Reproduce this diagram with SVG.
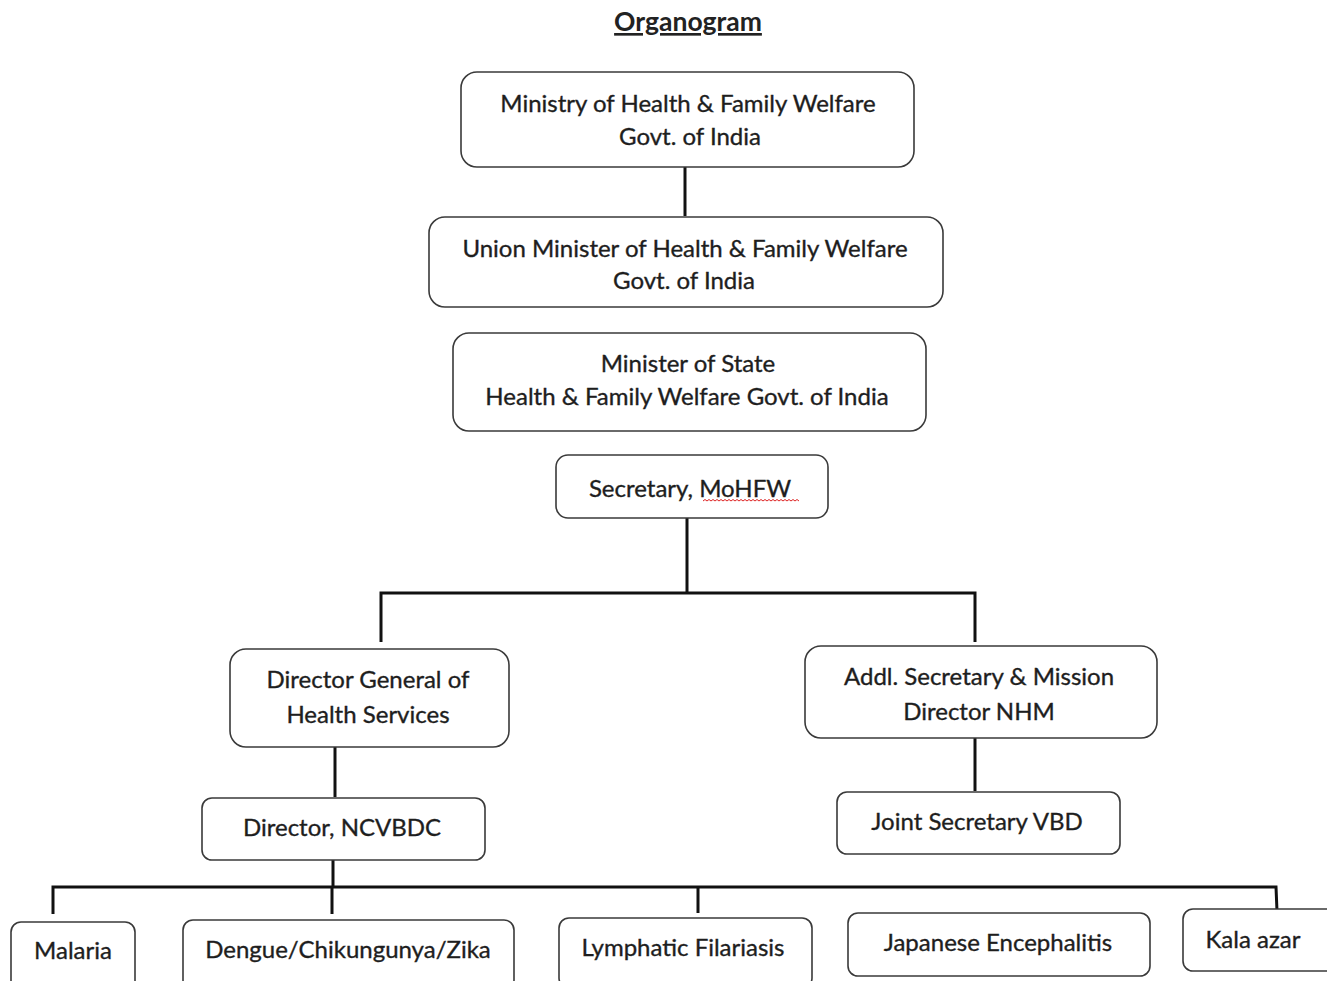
<svg xmlns="http://www.w3.org/2000/svg" width="1327" height="981" viewBox="0 0 1327 981">
<style>
.box{fill:#fff;stroke:#3a3a3a;stroke-width:1.6}
.t{font-family:Lato,"Open Sans","Liberation Sans",sans-serif;font-size:24px;fill:#1e1e1e;stroke:#1e1e1e;stroke-width:0.35;text-anchor:middle;dominant-baseline:central}
.c{fill:none;stroke:#111;stroke-width:3}
.title{font-family:Lato,"Open Sans","Liberation Sans",sans-serif;font-size:26.5px;font-weight:bold;fill:#222;text-anchor:middle;text-decoration:underline}
</style>
<rect width="1327" height="981" fill="#fff"/>
<text class="title" x="688" y="31">Organogram</text>
<g id="connectors">
<path class="c" d="M685 167V216"/>
<path class="c" d="M687 518V593M381 642V593H975V642"/>
<path class="c" d="M335 747V797"/>
<path class="c" d="M975 738V791"/>
<path class="c" d="M333 860V887M53 914V887H1276L1277 911M332 887V914M698 887V913"/>
</g>
<g id="n1"><rect class="box" x="461" y="72" width="453" height="95" rx="16"/><text class="t" x="688" y="102">Ministry of Health &amp; Family Welfare</text><text class="t" x="690" y="135">Govt. of India</text></g>
<g id="n2"><rect class="box" x="429" y="217" width="514" height="90" rx="16"/><text class="t" x="685" y="247">Union Minister of Health &amp; Family Welfare</text><text class="t" x="684" y="279">Govt. of India</text></g>
<g id="n3"><rect class="box" x="453" y="333" width="473" height="98" rx="16"/><text class="t" x="688" y="362">Minister of State</text><text class="t" x="687" y="395">Health &amp; Family Welfare Govt. of India</text></g>
<g id="n4"><rect class="box" x="556" y="455" width="272" height="63" rx="12"/><text class="t" x="690" y="487">Secretary, MoHFW</text><path d="M703 501l2-1.5 2 1.5 2-1.5 2 1.5 2-1.5 2 1.5 2-1.5 2 1.5 2-1.5 2 1.5 2-1.5 2 1.5 2-1.5 2 1.5 2-1.5 2 1.5 2-1.5 2 1.5 2-1.5 2 1.5 2-1.5 2 1.5 2-1.5 2 1.5 2-1.5 2 1.5 2-1.5 2 1.5 2-1.5 2 1.5 2-1.5 2 1.5 2-1.5 2 1.5 2-1.5 2 1.5 2-1.5 2 1.5 2-1.5 2 1.5 2-1.5 2 1.5 2-1.5 2 1.5 2-1.5 2 1.5 2-1.5 2 1.5" fill="none" stroke="#d22" stroke-width="1"/></g>
<g id="n5"><rect class="box" x="230" y="649" width="279" height="98" rx="16"/><text class="t" x="368" y="678">Director General of</text><text class="t" x="368" y="713">Health Services</text></g>
<g id="n6"><rect class="box" x="805" y="646" width="352" height="92" rx="16"/><text class="t" x="979" y="675">Addl. Secretary &amp; Mission</text><text class="t" x="979" y="710">Director NHM</text></g>
<g id="n7"><rect class="box" x="202" y="798" width="283" height="62" rx="10"/><text class="t" x="342" y="826">Director, NCVBDC</text></g>
<g id="n8"><rect class="box" x="837" y="792" width="283" height="62" rx="10"/><text class="t" x="977" y="820">Joint Secretary VBD</text></g>
<g id="n9"><rect class="box" x="11" y="922" width="124" height="70" rx="10"/><text class="t" x="73" y="949">Malaria</text></g>
<g id="n10"><rect class="box" x="183" y="920" width="331" height="70" rx="10"/><text class="t" x="348" y="948">Dengue/Chikungunya/Zika</text></g>
<g id="n11"><rect class="box" x="559" y="918" width="253" height="70" rx="10"/><text class="t" x="683" y="946">Lymphatic Filariasis</text></g>
<g id="n12"><rect class="box" x="848" y="913" width="302" height="63" rx="10"/><text class="t" x="998" y="941">Japanese Encephalitis</text></g>
<g id="n13"><rect class="box" x="1183" y="909" width="160" height="62" rx="10"/><text class="t" x="1253" y="938">Kala azar</text></g>
</svg>
